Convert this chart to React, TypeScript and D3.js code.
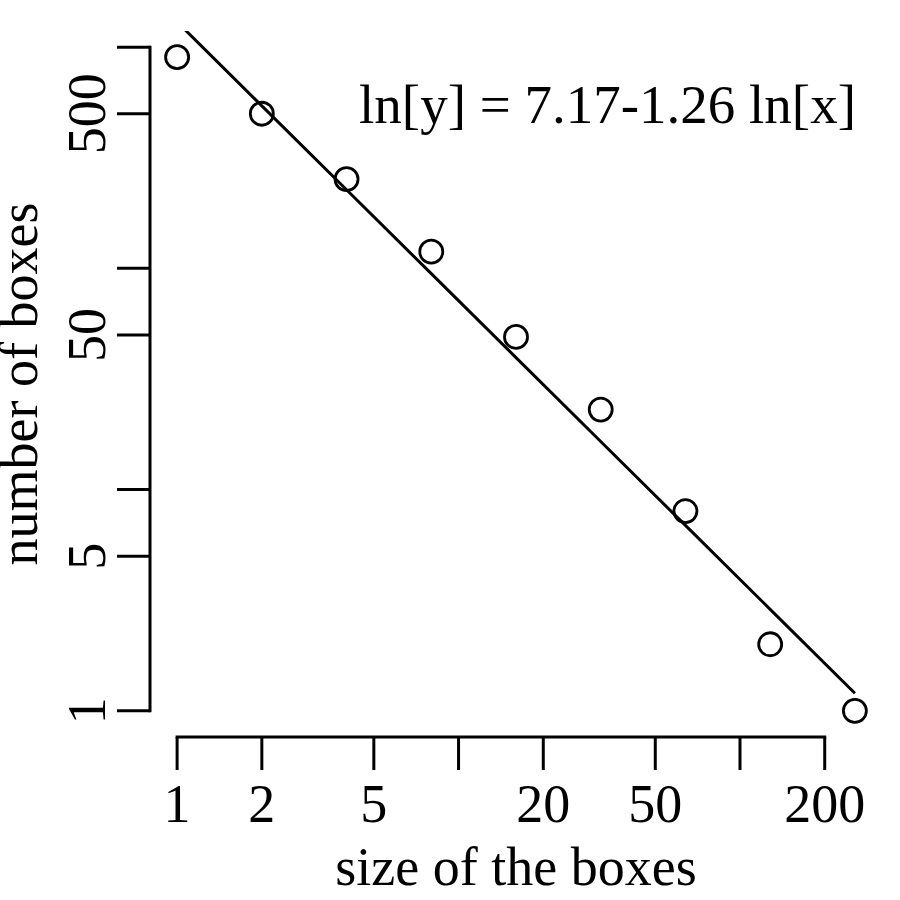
import React, { useEffect, useRef } from "react";
import * as d3 from "d3";

// box counting data
const boxSizes = [1, 2, 4, 8, 16, 32, 64, 128, 256];
const boxCounts = [901, 500, 253, 119, 49, 23, 8, 2, 1];

const xTicks = [1, 2, 5, 10, 20, 50, 100, 200];
const xTickLabels = ["1", "2", "5", "", "20", "50", "", "200"];
const yTicks = [1, 5, 10, 50, 100, 500, 1000];
const yTickLabels = ["1", "5", "", "50", "", "500", ""];

const intercept = 7.17;
const slope = -1.26;
const equation = "ln[y] = 7.17-1.26 ln[x]";
const xTitle = "size of the boxes";
const yTitle = "number of boxes";

const W = 900;
const H = 900;
const FONT = "'Liberation Serif', 'Times New Roman', serif";

export default function App() {
  const svgRef = useRef<SVGSVGElement>(null);

  useEffect(() => {
    const svg = d3.select(svgRef.current);
    svg.selectAll("*").remove();

    // plot region (R style, 4% extension of the log range)
    const left = 150,
      right = 882,
      top = 31,
      bottom = 737;

    const lx = d3.extent(boxSizes.map((d) => Math.log10(d))) as [number, number];
    const ly = d3.extent(boxCounts.map((d) => Math.log10(d))) as [number, number];
    const px = (lx[1] - lx[0]) * 0.04;
    const py = (ly[1] - ly[0]) * 0.04;

    const x = d3
      .scaleLog()
      .domain([Math.pow(10, lx[0] - px), Math.pow(10, lx[1] + px)])
      .range([left, right]);
    const y = d3
      .scaleLog()
      .domain([Math.pow(10, ly[0] - py), Math.pow(10, ly[1] + py)])
      .range([bottom, top]);

    svg
      .append("defs")
      .append("clipPath")
      .attr("id", "plotclip")
      .append("rect")
      .attr("x", left)
      .attr("y", top)
      .attr("width", right - left)
      .attr("height", bottom - top);

    // x axis
    const gx = svg.append("g");
    gx.append("line")
      .attr("x1", x(xTicks[0]))
      .attr("x2", x(xTicks[xTicks.length - 1]))
      .attr("y1", bottom)
      .attr("y2", bottom)
      .attr("stroke", "#000")
      .attr("stroke-width", 3)
      .attr("stroke-linecap", "square");
    xTicks.forEach((t, i) => {
      gx.append("line")
        .attr("x1", x(t))
        .attr("x2", x(t))
        .attr("y1", bottom)
        .attr("y2", bottom + 33)
        .attr("stroke", "#000")
        .attr("stroke-width", 3);
      if (xTickLabels[i])
        gx.append("text")
          .attr("x", x(t))
          .attr("y", 822)
          .attr("text-anchor", "middle")
          .attr("font-family", FONT)
          .attr("font-size", 54)
          .text(xTickLabels[i]);
    });

    // y axis
    const gy = svg.append("g");
    gy.append("line")
      .attr("x1", left)
      .attr("x2", left)
      .attr("y1", y(yTicks[0]))
      .attr("y2", y(yTicks[yTicks.length - 1]))
      .attr("stroke", "#000")
      .attr("stroke-width", 3)
      .attr("stroke-linecap", "square");
    yTicks.forEach((t, i) => {
      gy.append("line")
        .attr("x1", left)
        .attr("x2", left - 33)
        .attr("y1", y(t))
        .attr("y2", y(t))
        .attr("stroke", "#000")
        .attr("stroke-width", 3);
      if (yTickLabels[i])
        gy.append("text")
          .attr("transform", `translate(105, ${y(t)}) rotate(-90)`)
          .attr("text-anchor", "middle")
          .attr("font-family", FONT)
          .attr("font-size", 54)
          .text(yTickLabels[i]);
    });

    // axis titles
    svg
      .append("text")
      .attr("x", (left + right) / 2)
      .attr("y", 885)
      .attr("text-anchor", "middle")
      .attr("font-family", FONT)
      .attr("font-size", 54)
      .text(xTitle);
    svg
      .append("text")
      .attr("transform", `translate(37, ${(top + bottom) / 2}) rotate(-90)`)
      .attr("text-anchor", "middle")
      .attr("font-family", FONT)
      .attr("font-size", 54)
      .text(yTitle);

    // fitted line over the data range
    const fit = boxSizes.map((s) => ({
      s,
      c: Math.exp(intercept + slope * Math.log(s)),
    }));
    const line = d3
      .line<{ s: number; c: number }>()
      .x((d) => x(d.s))
      .y((d) => y(d.c));
    svg
      .append("path")
      .datum(fit)
      .attr("clip-path", "url(#plotclip)")
      .attr("fill", "none")
      .attr("stroke", "#000")
      .attr("stroke-width", 3)
      .attr("d", line);

    // points
    svg
      .append("g")
      .selectAll("circle")
      .data(boxSizes)
      .join("circle")
      .attr("cx", (d) => x(d))
      .attr("cy", (d, i) => y(boxCounts[i]))
      .attr("r", 11.5)
      .attr("fill", "none")
      .attr("stroke", "#000")
      .attr("stroke-width", 2.8);

    // equation
    svg
      .append("text")
      .attr("x", 856)
      .attr("y", 123)
      .attr("text-anchor", "end")
      .attr("font-family", FONT)
      .attr("font-size", 55)
      .text(equation);
  }, []);

  return (
    <div style={{ position: "absolute", left: 0, top: 0, background: "#fff" }}>
      <svg ref={svgRef} width={W} height={H}></svg>
    </div>
  );
}
